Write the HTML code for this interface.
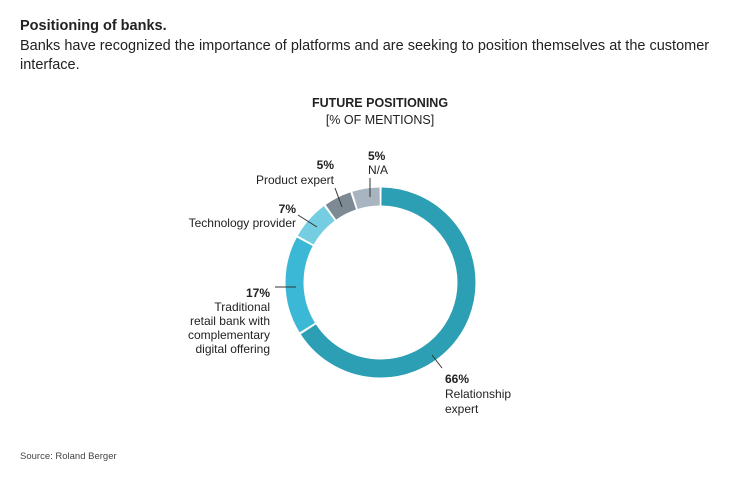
<!DOCTYPE html>
<html><head><meta charset="utf-8"><style>
body{margin:0;background:#fff;width:746px;height:479px;overflow:hidden;font-family:"Liberation Sans",sans-serif;color:#222}
.t{position:absolute;white-space:nowrap}
</style></head><body>
<div class="t" style="left:20px;top:18px;font-size:14.5px;font-weight:bold">Positioning of banks.</div>
<div class="t" style="left:20px;top:37px;font-size:14.5px;line-height:19px">Banks have recognized the importance of platforms and are seeking to position themselves at the customer<br>interface.</div>
<div class="t" style="left:0;width:760px;text-align:center;top:96px;font-size:12.5px;font-weight:bold">FUTURE POSITIONING</div>
<div class="t" style="left:0;width:760px;text-align:center;top:113px;font-size:12.5px">[% OF MENTIONS]</div>
<svg width="746" height="479" style="position:absolute;left:0;top:0">
<g transform="rotate(-90 380.5 282.5)" fill="none" stroke-width="18">
<circle cx="380.5" cy="282.5" r="86" stroke="#2c9fb4" stroke-dasharray="354.6 600" stroke-dashoffset="-1"/>
<circle cx="380.5" cy="282.5" r="86" stroke="#3bb8d5" stroke-dasharray="89.9 600" stroke-dashoffset="-357.6"/>
<circle cx="380.5" cy="282.5" r="86" stroke="#74cde0" stroke-dasharray="35.8 600" stroke-dashoffset="-449.5"/>
<circle cx="380.5" cy="282.5" r="86" stroke="#7d8993" stroke-dasharray="25 600" stroke-dashoffset="-487.3"/>
<circle cx="380.5" cy="282.5" r="86" stroke="#a8b4bf" stroke-dasharray="25 600" stroke-dashoffset="-514.3"/>
</g>
<g stroke="#333" stroke-width="1">
<line x1="335" y1="188" x2="342" y2="207"/>
<line x1="370" y1="178" x2="370" y2="197"/>
<line x1="298" y1="215" x2="317" y2="227"/>
<line x1="275" y1="287" x2="296" y2="287"/>
<line x1="432" y1="355" x2="442" y2="368"/>
</g>
</svg>
<div class="t" style="left:310px;top:158px;width:24px;text-align:right;font-size:12px;font-weight:bold">5%</div>
<div class="t" style="left:200px;top:173px;width:134px;text-align:right;font-size:12px">Product expert</div>
<div class="t" style="left:368px;top:149px;font-size:12px;font-weight:bold">5%</div>
<div class="t" style="left:368px;top:163px;font-size:12px">N/A</div>
<div class="t" style="left:200px;top:202px;width:96px;text-align:right;font-size:12px;font-weight:bold">7%</div>
<div class="t" style="left:150px;top:216px;width:146px;text-align:right;font-size:12px">Technology provider</div>
<div class="t" style="left:150px;top:286px;width:120px;text-align:right;font-size:12px;line-height:14px"><b>17%</b><br>Traditional<br>retail bank with<br>complementary<br>digital offering</div>
<div class="t" style="left:445px;top:372px;font-size:12px;line-height:15px"><b>66%</b><br>Relationship<br>expert</div>
<div class="t" style="left:20px;top:451px;font-size:9.5px;color:#444">Source: Roland Berger</div>
</body></html>
